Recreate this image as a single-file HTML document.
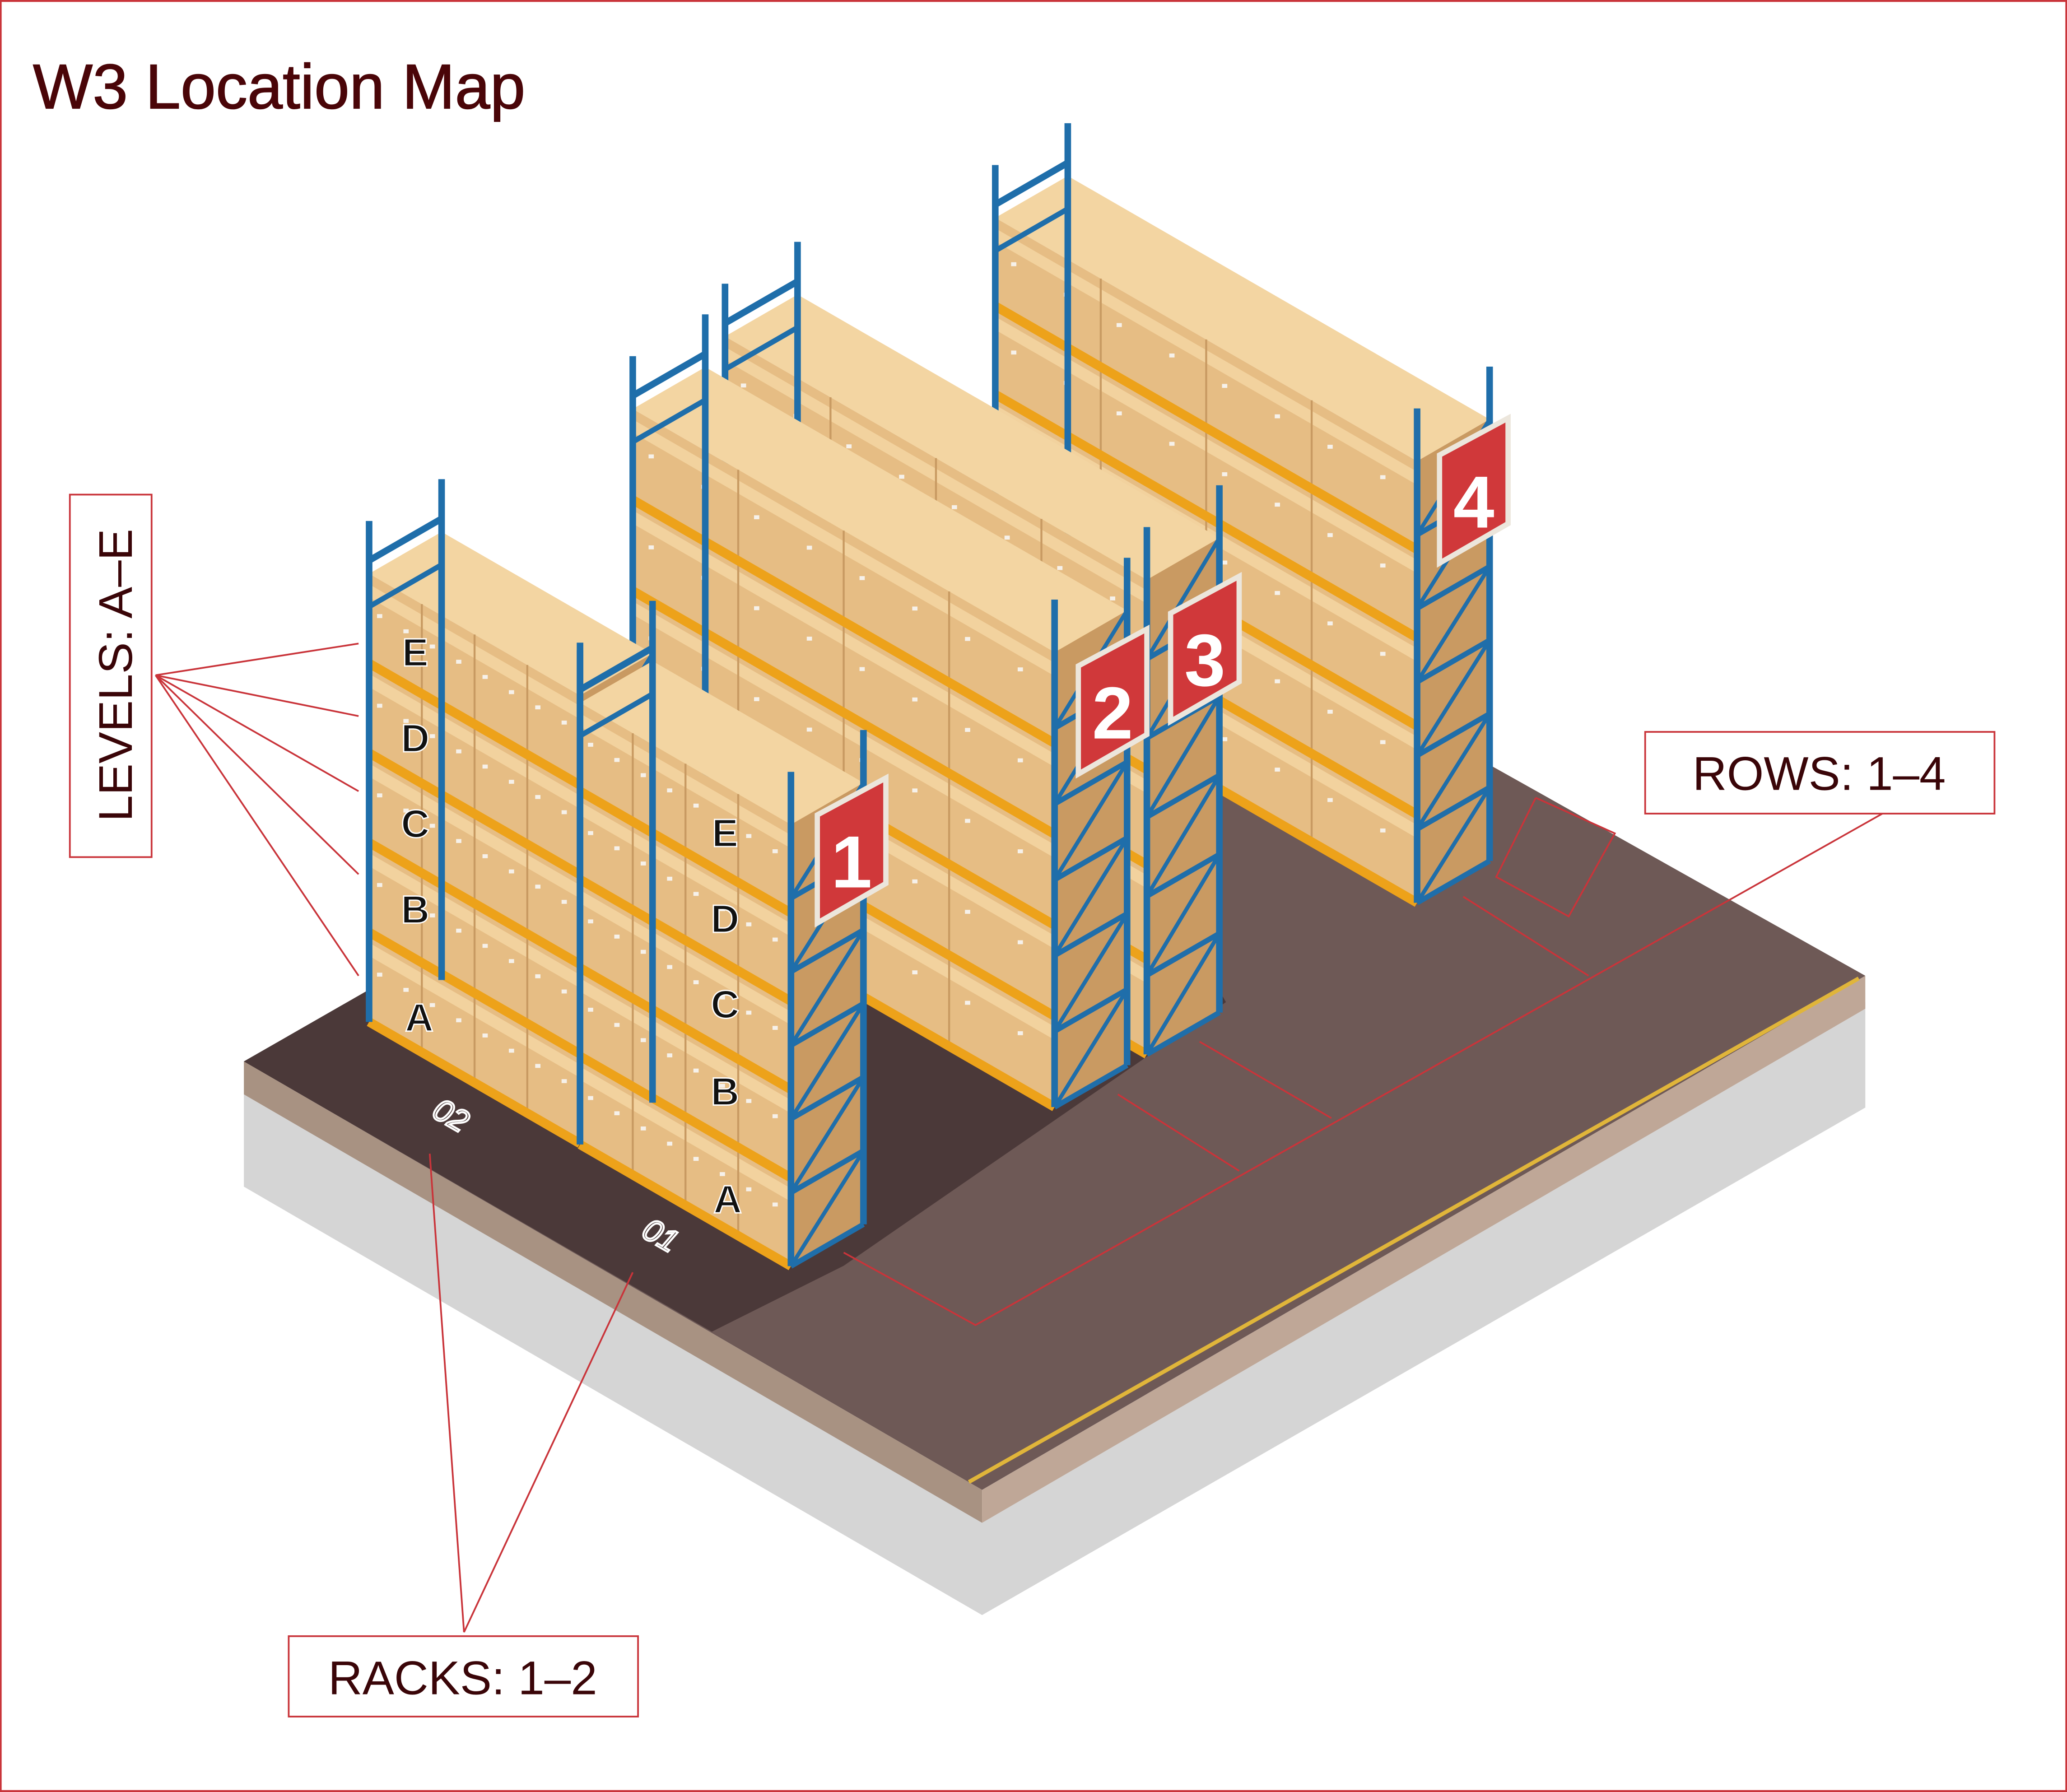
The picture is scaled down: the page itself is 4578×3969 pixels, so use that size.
<!DOCTYPE html>
<html><head><meta charset="utf-8"><style>
html,body{margin:0;padding:0;background:#fff}
svg{display:block}
text{font-family:"Liberation Sans",sans-serif}
</style></head><body>
<svg id="s" width="4578" height="3969" viewBox="0 0 1568 1359" xmlns="http://www.w3.org/2000/svg">
<rect x="0.5" y="0.5" width="1567" height="1358" fill="#fff" stroke="#c9343a" stroke-width="1.5"/>
<text x="25" y="82" font-size="48" fill="#4a0508" stroke="#4a0508" stroke-width="0.6">W3 Location Map</text>
<polygon points="185,900 745,1225 1415,840 1415,760 745,1150 185,830" fill="#d5d5d5"/>
<polygon points="185,805 745,1130 745,1155 185,830" fill="#a89282"/>
<polygon points="745,1130 1415,740 1415,765 745,1155" fill="#bfa797"/>
<polygon points="185,805 560,590 1130,580 1415,740 745,1130" fill="#6e5956"/>
<polygon points="185,805 560,590 860,640 930,760 640,960 540,1010" fill="#4b3939"/>
<line x1="735" y1="1124" x2="1410" y2="742" stroke="#e0b53a" stroke-width="3"/>
<g id="racks"></g>
<g stroke="#c9343a" stroke-width="1.3" fill="none">
<polyline points="640,950 740,1005 1428,617"/>
<line x1="848" y1="830" x2="940" y2="888"/>
<line x1="910" y1="790" x2="1010" y2="848"/>
<line x1="1110" y1="680" x2="1205" y2="740"/>
<polyline points="1165,605 1225,632 1190,695 1135,665 1165,605"/>
<line x1="118" y1="512" x2="272" y2="488"/>
<line x1="118" y1="512" x2="272" y2="543"/>
<line x1="118" y1="512" x2="272" y2="600"/>
<line x1="118" y1="512" x2="272" y2="663"/>
<line x1="118" y1="512" x2="272" y2="740"/>
<line x1="352" y1="1238" x2="326" y2="875"/>
<line x1="352" y1="1238" x2="480" y2="965"/>
</g>
<text transform="translate(338,853) rotate(30)" font-size="24" font-style="italic" fill="none" stroke="#fff" stroke-width="1.5" text-anchor="middle">02</text>
<text transform="translate(497,944) rotate(30)" font-size="24" font-style="italic" fill="none" stroke="#fff" stroke-width="1.5" text-anchor="middle">01</text>
<rect x="53" y="375" width="62" height="275" fill="#fff" stroke="#c9343a" stroke-width="1.3"/>
<text transform="translate(100,512) rotate(-90)" font-size="36" fill="#3a0508" text-anchor="middle">LEVELS: A–E</text>
<rect x="1248" y="555" width="265" height="62" fill="#fff" stroke="#c9343a" stroke-width="1.3"/>
<text x="1380" y="599" font-size="36" fill="#3a0508" text-anchor="middle">ROWS: 1–4</text>
<rect x="219" y="1241" width="265" height="61" fill="#fff" stroke="#c9343a" stroke-width="1.3"/>
<text x="351" y="1285" font-size="36" fill="#3a0508" text-anchor="middle">RACKS: 1–2</text>
</svg>
<script>
var g=document.getElementById('racks'),NS='http://www.w3.org/2000/svg';
function el(t,a){var e=document.createElementNS(NS,t);for(var k in a)e.setAttribute(k,a[k]);g.appendChild(e);return e;}
var S=0.577;
function row(x0,y0,L,H,D,num,sx,sy,letters){
 var dx=D,dy=-S*D;
 function p(x,y){return x+','+y}
 var x1=x0+L,y1=y0+S*L;
 el('polygon',{points:[p(x0,y0-H),p(x1,y1-H),p(x1+dx,y1-H+dy),p(x0+dx,y0-H+dy)].join(' '),fill:'#f3d5a2'});
 el('polygon',{points:[p(x1,y1-H),p(x1+dx,y1-H+dy),p(x1+dx,y1+dy),p(x1,y1)].join(' '),fill:'#c99a62'});
 el('polygon',{points:[p(x0,y0-H),p(x1,y1-H),p(x1,y1),p(x0,y0)].join(' '),fill:'#e6bd84'});
 for(var lv=0;lv<5;lv++){var h=H*(lv+1)/5-8;el('polygon',{points:[p(x0,y0-h),p(x1,y1-h),p(x1,y1-h+10),p(x0,y0-h+10)].join(' '),fill:'#f2d29e'});}
 for(var i=1;i<4;i++){var xx=x0+L*i/4;el('line',{x1:xx,y1:y0+S*L*i/4-H,x2:xx,y2:y0+S*L*i/4,stroke:'#c89a62','stroke-width':1.5});}
 for(var lv=0;lv<5;lv++)for(var i=0;i<8;i++){var xx=x0+L*(i+0.3)/8,yb=y0+S*(xx-x0)-H*(lv+0.6)/5;el('rect',{x:xx,y:yb,width:4,height:3,fill:'#f6f1ea'});}
 for(var lv=0;lv<5;lv++){var h=H*lv/5;el('line',{x1:x0,y1:y0-h,x2:x1,y2:y1-h,stroke:'#eda21a','stroke-width':7});}
 var ub='#1f6eaa';
 [[x0,y0],[x0+dx,y0+dy],[x1,y1],[x1+dx,y1+dy]].forEach(function(q){el('line',{x1:q[0],y1:q[1],x2:q[0],y2:q[1]-H-40,stroke:ub,'stroke-width':5});});
 el('line',{x1:x0,y1:y0-H-10,x2:x0+dx,y2:y0-H-10+dy,stroke:ub,'stroke-width':5});
 el('line',{x1:x0,y1:y0-H+25,x2:x0+dx,y2:y0-H+25+dy,stroke:ub,'stroke-width':4});
 for(var k=0;k<6;k++){var yy=y1-k*H/6;el('line',{x1:x1,y1:yy,x2:x1+dx,y2:yy+dy,stroke:ub,'stroke-width':4});el('line',{x1:x1,y1:yy,x2:x1+dx,y2:yy+dy-H/6,stroke:ub,'stroke-width':3});}
 if(num){
 el('polygon',{points:[p(sx,sy),p(sx+52,sy-28),p(sx+52,sy+52),p(sx,sy+82)].join(' '),fill:'#d0383a',stroke:'#ece6dc','stroke-width':4});
 var t=el('text',{x:sx+26,y:sy+55,'font-size':56,'font-weight':'bold',fill:'#fff','font-family':'Liberation Serif, serif','text-anchor':'middle'});t.textContent=num;}
 if(letters){letters.forEach(function(L){var t=el('text',{x:L[0],y:L[1],'font-size':30,'font-weight':'bold',fill:'#111',stroke:'#fff','stroke-width':1,'text-anchor':'middle'});t.textContent=L[2];});}
}
row(755,500,320,335,55,'4',1092,345);
row(550,615,320,360,55,'3',888,465);
row(480,655,320,345,55,'2',818,505);
row(280,775,160,340,55,'',0,0);
row(440,868,160,335,55,'1',620,618,[[315,505,'E'],[315,570,'D'],[315,635,'C'],[315,700,'B'],[318,782,'A'],[550,642,'E'],[550,707,'D'],[550,772,'C'],[550,838,'B'],[552,920,'A']]);
</script>
</body></html>
